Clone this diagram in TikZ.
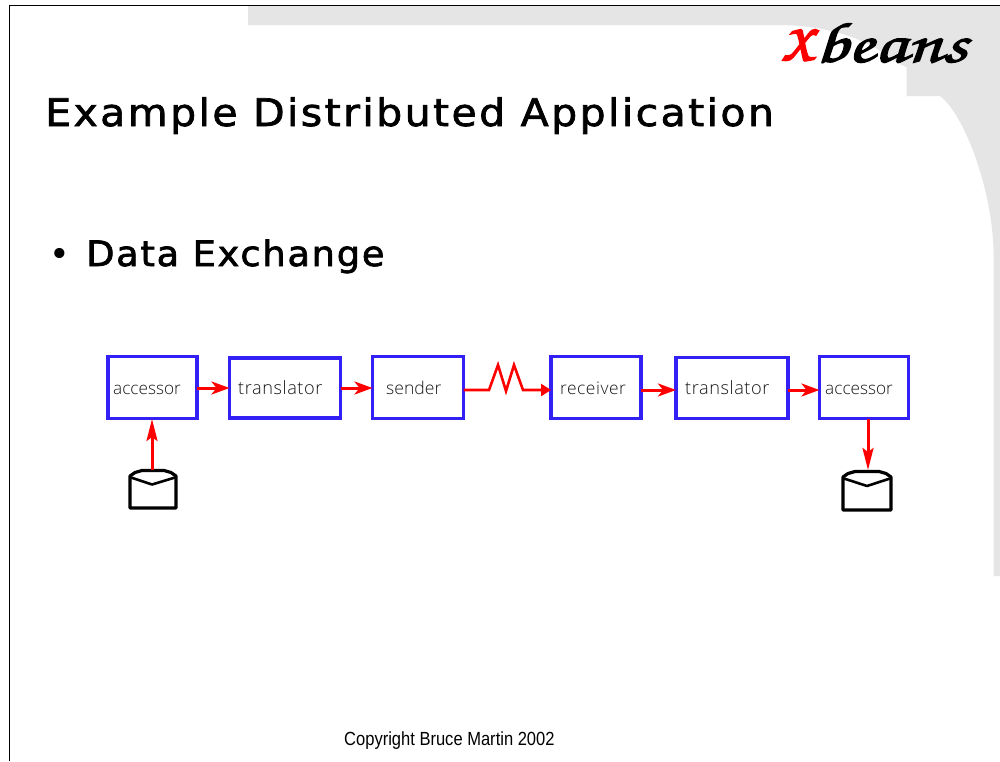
\documentclass[tikz,border=0pt]{standalone}
\usepackage{fontspec}
\setmainfont{DejaVu Sans}
\newfontfamily\titlefont[FakeStretch=1.08,LetterSpace=6.3]{DejaVu Sans}
\newfontfamily\subfont[FakeStretch=1.05,LetterSpace=5]{DejaVu Sans}
\newfontfamily\labelfont{Open Sans Light}
\newfontfamily\labelwide[LetterSpace=3]{Open Sans Light}
\newfontfamily\labelmid[LetterSpace=3]{Open Sans Light}
\newfontfamily\copyfont[FakeStretch=0.87]{Liberation Sans}
\newcommand{\logoface}{\usefont{OT1}{pzc}{mb}{it}}
\newcommand{\heavytext}[2]{\special{pdf:code 2 Tr #1 w}#2\special{pdf:code 0 Tr}}
\usetikzlibrary{arrows.meta}
\definecolor{boxblue}{RGB}{51,32,245}
\definecolor{bandgrey}{RGB}{229,229,229}
\tikzset{
  stage/.style={draw=boxblue,line width=3.1pt,fill=white,inner sep=0pt,outer sep=0pt,anchor=north west},
  stagetext/.style={text=black!90,inner sep=0pt,anchor=base west},
  flow/.style={draw=red,line width=3pt,-{Stealth[length=18pt,width=13pt,inset=5pt]}},
  vflow/.style={draw=red,line width=3pt,-{Stealth[length=22pt,width=11pt,inset=4pt]}},
  thinflow/.style={draw=red,line width=2.6pt,-{Stealth[length=10pt,width=12pt,inset=0pt]}},
  store/.style={draw=black,line width=3.2pt,line join=round},
}
\begin{document}
\begin{tikzpicture}[x=1pt,y=-1pt]
\useasboundingbox (0,0) rectangle (1000,761);
\fill[white] (0,0) rectangle (1000,761);
\fill[bandgrey] (248,6) -- (1000,6) -- (1000,576) -- (993.5,576) -- (993.5,250)
  .. controls (992,190) and (965,115) .. (940,96) -- (906.5,96) -- (906.5,67) -- (897,63)
  .. controls (870,40) and (830,25) .. (777,25) -- (248,25) -- cycle;
\draw[black,line width=1pt] (9.5,761) -- (9.5,5.5) -- (1000,5.5);
\node[font=\titlefont\fontsize{38}{46}\selectfont,inner sep=0pt,anchor=base west] (title) at (45,126) {\heavytext{0.7}{Example Distributed Application}};
\node[font=\fontsize{35}{42}\selectfont,inner sep=0pt,anchor=base west] (bullet) at (49,266) {•};
\node[font=\subfont\fontsize{35}{42}\selectfont,inner sep=0pt,anchor=base west] (sub) at (86,266) {\heavytext{0.7}{Data Exchange}};
\node[font=\logoface\fontsize{52}{60}\selectfont,text=red,inner sep=0pt,anchor=base west] (logox) at (783,60) {\heavytext{2.2}{X}};
\node[font=\logoface\fontsize{57}{60}\selectfont,inner sep=0pt,anchor=base west] (logob) at (815,62) {\scalebox{1.36}[1]{\heavytext{1.1}{beans}}};
\node[font=\copyfont\fontsize{19}{22}\selectfont,inner sep=0pt,anchor=base west] (copy) at (344,745) {Copyright Bruce Martin 2002};
%
\node[stage,minimum width=89pt,minimum height=62pt] (a1) at (108,356.5) {};
\node[stage,minimum width=111pt,minimum height=60pt] (t1) at (229.5,358) {};
\node[stage,minimum width=91pt,minimum height=62pt] (s) at (372.5,356.5) {};
\node[stage,minimum width=90pt,minimum height=62pt] (r) at (551,356.5) {};
\node[stage,minimum width=112pt,minimum height=61pt] (t2) at (676,357.5) {};
\node[stage,minimum width=89pt,minimum height=62pt] (a2) at (819.5,356.5) {};
\node[stagetext,font=\labelfont\fontsize{17.2}{20}\selectfont] (la1) at (113,394.5) {accessor};
\node[stagetext,font=\labelwide\fontsize{18.2}{20}\selectfont] (lt1) at (238,394.5) {translator};
\node[stagetext,font=\labelfont\fontsize{17.6}{20}\selectfont] (ls) at (386,394.5) {sender};
\node[stagetext,font=\labelmid\fontsize{17.4}{20}\selectfont] (lr) at (560,394.5) {receiver};
\node[stagetext,font=\labelwide\fontsize{18.2}{20}\selectfont] (lt2) at (685,394.5) {translator};
\node[stagetext,font=\labelfont\fontsize{17.2}{20}\selectfont] (la2) at (825,394.5) {accessor};
%
\draw[flow] (a1.east |- 0,388) -- (t1.west |- 0,388);
\draw[flow] (t1.east |- 0,388) -- (s.west |- 0,388);
\draw[flow] (r.east |- 0,390) -- (t2.west |- 0,390);
\draw[flow] (t2.east |- 0,390) -- (a2.west |- 0,390);
\coordinate (z1) at (489,390);
\coordinate (z2) at (498,365);
\coordinate (z3) at (506,391);
\coordinate (z4) at (514,365);
\coordinate (z5) at (523,390);
\draw[thinflow,line join=miter] (s.east |- 0,390) -- (z1) -- (z2) -- (z3) -- (z4) -- (z5) -- (r.west |- 0,390);
%
\coordinate (d1top) at (152,470);
\coordinate (d2top) at (868,470);
\draw[store] (130,476) -- (130,508) -- (176,508) -- (176,476) -- (171,472.5) -- (164,470.5) -- (142,470.5) -- (135,472.5) -- cycle;
\draw[store,line width=2.6pt] (131,477.5) -- (152,484.5) -- (175,477.5);
\draw[store] (843,477) -- (843,510) -- (891,510) -- (891,477) -- (886,473.5) -- (879,471.5) -- (855,471.5) -- (848,473.5) -- cycle;
\draw[store,line width=2.6pt] (844,478.5) -- (867,486) -- (890,478.5);
\draw[vflow] (d1top) -- (152,419);
\draw[vflow] (868,419) -- (d2top);
\end{tikzpicture}
\end{document}
